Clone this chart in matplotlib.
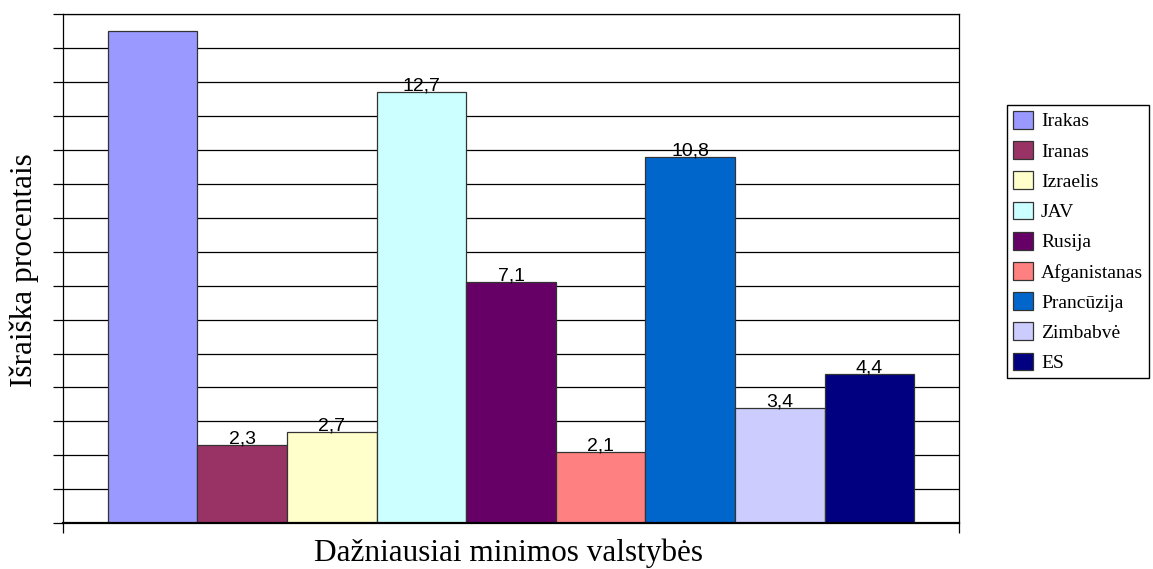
import matplotlib.pyplot as plt
from matplotlib.patches import Patch

# Data
countries = ['Irakas', 'Iranas', 'Izraelis', 'JAV', 'Rusija', 'Afganistanas',
             'Prancūzija', 'Zimbabvė', 'ES']
values = [14.5, 2.3, 2.7, 12.7, 7.1, 2.1, 10.8, 3.4, 4.4]
labels = ['', '2,3', '2,7', '12,7', '7,1', '2,1', '10,8', '3,4', '4,4']
colors = ['#9999FF', '#993366', '#FFFFCC', '#CCFFFF', '#660066', '#FF8080',
          '#0066CC', '#CCCCFF', '#000080']

fig = plt.figure(figsize=(11.53, 5.69), dpi=100)
ax = fig.add_axes([63 / 1153, 45.7 / 569, (959 - 63) / 1153, (523.3 - 14) / 569])

# horizontal grid lines
for y in range(1, 16):
    ax.axhline(y, color='black', linewidth=0.9, zorder=0)

x = list(range(len(values)))
ax.bar(x, values, width=1.0, color=colors, edgecolor='#333333', linewidth=0.9, zorder=2)

for xi, v, lab in zip(x, values, labels):
    if lab:
        ax.text(xi, v + 0.04, lab, ha='center', va='baseline', fontsize=14,
                family='Liberation Sans', zorder=3)

ax.set_xlim(-1, 9)
ax.set_ylim(0, 15)
ax.set_yticks(range(0, 16))
ax.set_yticklabels([])
ax.set_xticks([-1, 9])
ax.set_xticklabels([])
ax.tick_params(axis='both', direction='out', length=7.5, width=0.9, color='black')
for s in ax.spines.values():
    s.set_color('black')
    s.set_linewidth(0.9)
ax.spines['bottom'].set_linewidth(1.6)

fig.text(24 / 1153, 1 - 270 / 569, 'Išraiška procentais', rotation=90,
         ha='center', va='center', fontsize=22.5, family='Liberation Serif')
fig.text(508 / 1153, 1 - 561 / 569, 'Dažniausiai minimos valstybės',
         ha='center', va='baseline', fontsize=22.5, family='Liberation Serif')

handles = [Patch(facecolor=c, edgecolor='#333333', linewidth=0.9) for c in colors]
fig.legend(handles, countries, loc='upper left',
           bbox_to_anchor=(1007 / 1153, 1 - 105 / 569),
           bbox_transform=fig.transFigure, borderaxespad=0,
           prop={'family': 'Liberation Serif', 'size': 14},
           fancybox=False, edgecolor='black', framealpha=1,
           handlelength=1.03, handleheight=1.03, labelspacing=0.55,
           handletextpad=0.42, borderpad=0.3)

fig.savefig('out.png', dpi=100)
